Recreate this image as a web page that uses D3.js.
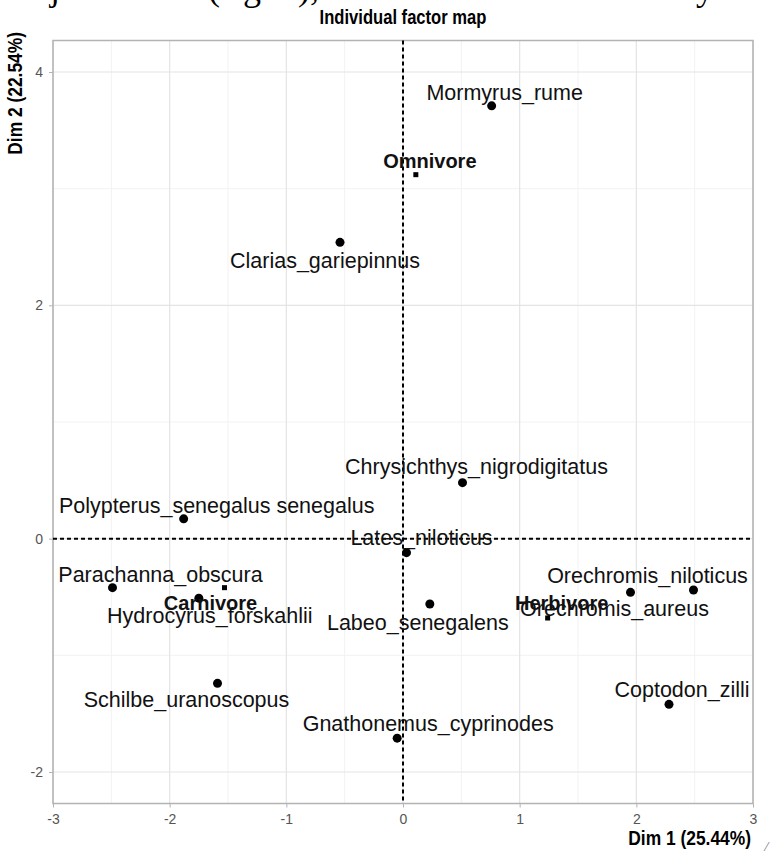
<!DOCTYPE html>
<html>
<head>
<meta charset="utf-8">
<script src="https://cdn.jsdelivr.net/npm/d3@7"></script>
<style>
  body { margin: 0; background: #fff; }
  svg { display: block; }
</style>
</head>
<body>
<svg id="my_svg"></svg>
<script>
const width = 775;
const height = 854;

// individuals (fish species)
const species = ["Mormyrus_rume", "Clarias_gariepinnus", "Chrysichthys_nigrodigitatus",
  "Polypterus_senegalus senegalus", "Lates_niloticus", "Parachanna_obscura",
  "Hydrocyrus_forskahlii", "Schilbe_uranoscopus", "Labeo_senegalens",
  "Orechromis_aureus", "Orechromis_niloticus", "Coptodon_zilli", "Gnathonemus_cyprinodes"];
const dim1 = [0.76, -0.54, 0.51, -1.88, 0.03, -2.49, -1.75, -1.59, 0.23, 1.95, 2.49, 2.28, -0.05];
const dim2 = [3.71, 2.54, 0.48, 0.17, -0.12, -0.42, -0.51, -1.24, -0.56, -0.46, -0.44, -1.42, -1.71];

// supplementary categories (diet)
const diets = ["Omnivore", "Carnivore", "Herbivore"];
const dietDim1 = [0.11, -1.53, 1.24];
const dietDim2 = [3.12, -0.42, -0.68];

const xTicks = [-3, -2, -1, 0, 1, 2, 3];
const yTicks = [-2, 0, 2, 4];

// label nudges in pixels (like ggrepel placement)
const nudge = {
  "Mormyrus_rume": [13, -14],
  "Clarias_gariepinnus": [-15, 18],
  "Chrysichthys_nigrodigitatus": [14, -16],
  "Polypterus_senegalus senegalus": [33, -14],
  "Lates_niloticus": [15, -15],
  "Parachanna_obscura": [48, -13],
  "Hydrocyrus_forskahlii": [11, 17],
  "Schilbe_uranoscopus": [-31, 16],
  "Labeo_senegalens": [-12, 18],
  "Orechromis_aureus": [-16, 16],
  "Orechromis_niloticus": [-46, -15],
  "Coptodon_zilli": [13, -15],
  "Gnathonemus_cyprinodes": [31, -15],
  "Omnivore": [14, -14],
  "Carnivore": [-14, 15],
  "Herbivore": [14, -15]
};

const svg = d3.select('#my_svg')
  .attr('width', width)
  .attr('height', height);

// clipped line of the page text above the figure (only descenders show)
svg.append("text")
  .attr("y", 0)
  .attr("font-family", "Liberation Serif, serif")
  .attr("font-size", 36)
  .attr("fill", "#000")
  .selectAll("tspan")
  .data([["j", 50], ["(", 208], ["g", 243], [")", 298], [",", 310], ["y", 696]])
  .join("tspan")
  .attr("x", d => d[1])
  .text(d => d[0]);

const x = d3.scaleLinear().domain([-3, 3]).range([53, 753]);
const y = d3.scaleLinear().domain([-2, 4]).range([772, 72]);
const yMin = -2.27, yMax = 4.27;

const panel = svg.append("g");

// minor grid
const xMinor = d3.range(-2.5, 3, 1);
const yMinor = [-1, 1, 3];
panel.selectAll(".xminor").data(xMinor).join("line")
  .attr("x1", d => x(d)).attr("x2", d => x(d))
  .attr("y1", y(yMax)).attr("y2", y(yMin))
  .attr("stroke", "#f2f2f2").attr("stroke-width", 1);
panel.selectAll(".yminor").data(yMinor).join("line")
  .attr("y1", d => y(d)).attr("y2", d => y(d))
  .attr("x1", x(-3)).attr("x2", x(3))
  .attr("stroke", "#f2f2f2").attr("stroke-width", 1);

// major grid
panel.selectAll(".xmajor").data(xTicks).join("line")
  .attr("x1", d => x(d)).attr("x2", d => x(d))
  .attr("y1", y(yMax)).attr("y2", y(yMin))
  .attr("stroke", "#e4e4e4").attr("stroke-width", 1.2);
panel.selectAll(".ymajor").data(yTicks).join("line")
  .attr("y1", d => y(d)).attr("y2", d => y(d))
  .attr("x1", x(-3)).attr("x2", x(3))
  .attr("stroke", "#e4e4e4").attr("stroke-width", 1.2);

// panel border
svg.append("rect")
  .attr("x", x(-3)).attr("y", y(yMax))
  .attr("width", x(3) - x(-3)).attr("height", y(yMin) - y(yMax))
  .attr("fill", "none").attr("stroke", "#b3b3b3").attr("stroke-width", 1.5);

// axes
const fmt = d => String(d);
const xAxis = svg.append("g")
  .attr("transform", `translate(0,${y(yMin)})`)
  .call(d3.axisBottom(x).tickValues(xTicks).tickFormat(fmt).tickSize(4).tickPadding(7));
const yAxis = svg.append("g")
  .attr("transform", `translate(${x(-3)},0)`)
  .call(d3.axisLeft(y).tickValues(yTicks).tickFormat(fmt).tickSize(4).tickPadding(6));
[xAxis, yAxis].forEach(g => {
  g.select(".domain").remove();
  g.selectAll(".tick line").attr("stroke", "#b3b3b3");
  g.selectAll(".tick text")
    .attr("fill", "#555")
    .attr("font-family", "Liberation Sans, Arial, sans-serif")
    .attr("font-size", 14);
});

// dashed origin lines
svg.append("line")
  .attr("x1", x(0)).attr("x2", x(0))
  .attr("y1", y(yMax)).attr("y2", y(yMin))
  .attr("stroke", "#000").attr("stroke-width", 2).attr("stroke-dasharray", "4,3");
svg.append("line")
  .attr("x1", x(-3)).attr("x2", x(3))
  .attr("y1", y(0)).attr("y2", y(0))
  .attr("stroke", "#000").attr("stroke-width", 2).attr("stroke-dasharray", "4,3");

// individuals
const ind = species.map((s, i) => ({ name: s, d1: dim1[i], d2: dim2[i] }));
svg.selectAll(".ind").data(ind).join("circle")
  .attr("class", "ind")
  .attr("cx", d => x(d.d1)).attr("cy", d => y(d.d2))
  .attr("r", 4.5).attr("fill", "#000");

svg.selectAll(".indlab").data(ind).join("text")
  .attr("class", "indlab")
  .attr("x", d => x(d.d1) + nudge[d.name][0])
  .attr("y", d => y(d.d2) + nudge[d.name][1])
  .attr("dy", "0.36em")
  .attr("text-anchor", "middle")
  .attr("font-family", "Liberation Sans, Arial, sans-serif")
  .attr("font-size", 21.5)
  .attr("fill", "#111")
  .text(d => d.name);

// diet categories
const sup = diets.map((s, i) => ({ name: s, d1: dietDim1[i], d2: dietDim2[i] }));
svg.selectAll(".sup").data(sup).join("rect")
  .attr("class", "sup")
  .attr("x", d => x(d.d1) - 2.5).attr("y", d => y(d.d2) - 2.5)
  .attr("width", 5).attr("height", 5).attr("fill", "#000");

svg.selectAll(".suplab").data(sup).join("text")
  .attr("class", "suplab")
  .attr("x", d => x(d.d1) + nudge[d.name][0])
  .attr("y", d => y(d.d2) + nudge[d.name][1])
  .attr("dy", "0.36em")
  .attr("text-anchor", "middle")
  .attr("font-family", "Liberation Sans, Arial, sans-serif")
  .attr("font-weight", "bold")
  .attr("font-size", 20)
  .attr("fill", "#111")
  .text(d => d.name);

// titles (condensed bold, like the R graphics device)
svg.append("text")
  .attr("transform", `translate(${(x(-3) + x(3)) / 2},24) scale(0.83,1)`)
  .attr("text-anchor", "middle")
  .attr("font-family", "Liberation Sans, Arial, sans-serif")
  .attr("font-weight", "bold")
  .attr("font-size", 20)
  .text("Individual factor map");

svg.append("text")
  .attr("transform", `translate(${x(3) - 2},845) scale(0.87,1)`)
  .attr("text-anchor", "end")
  .attr("font-family", "Liberation Sans, Arial, sans-serif")
  .attr("font-weight", "bold")
  .attr("font-size", 20)
  .text("Dim 1 (25.44%)");

svg.append("text")
  .attr("transform", `translate(22,32) rotate(-90) scale(0.87,1)`)
  .attr("text-anchor", "end")
  .attr("font-family", "Liberation Sans, Arial, sans-serif")
  .attr("font-weight", "bold")
  .attr("font-size", 20)
  .text("Dim 2 (22.54%)");

// small mark at the bottom right corner of the scan
svg.append("text")
  .attr("x", 766).attr("y", 851)
  .attr("font-family", "Liberation Sans, Arial, sans-serif")
  .attr("font-size", 12)
  .attr("fill", "#888")
  .text("⁄");
</script>
</body>
</html>
